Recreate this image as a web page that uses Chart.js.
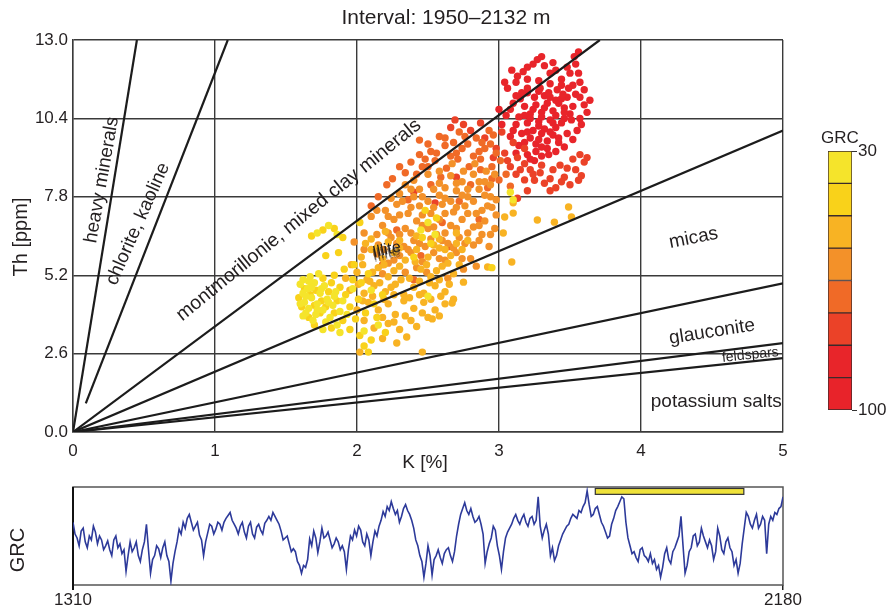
<!DOCTYPE html>
<html>
<head>
<meta charset="utf-8">
<script src="https://cdn.jsdelivr.net/npm/chart.js@4.4.1/dist/chart.umd.min.js"></script>
<style>
  body { margin: 0; background: #fff; }
  #wrap { position: relative; width: 891px; height: 614px; }
  canvas { position: absolute; }
</style>
</head>
<body>
<div id="wrap">
  <canvas id="cross" width="891" height="475" style="left:0;top:0"></canvas>
  <canvas id="scale" width="91" height="305" style="left:800px;top:120px"></canvas>
  <canvas id="log" width="891" height="139" style="left:0;top:475px"></canvas>
</div>
<script>
// axis ticks
const kTicks = [0, 1, 2, 3, 4, 5];
const thTicks = [0, 2.6, 5.2, 7.8, 10.4, 13.0];

// GRC colour classes (30 -> 100)
const grcEdges = [30, 38.75, 47.5, 56.25, 65, 73.75, 82.5, 91.25, 100];
const grcColors = ['#f5e42b', '#f9d21a', '#f8b323', '#f39129', '#f06a27', '#eb4228', '#e8252a', '#e8232a'];

// K [%], Th [ppm] samples per GRC class
const grc0 = [[1.60,4.90],[1.62,4.60],[1.63,4.30],[1.65,4.75],[1.66,4.10],[1.68,4.45],[1.70,4.95],[1.71,3.90],[1.72,4.25],[1.74,4.60],[1.76,4.05],[1.77,4.85],[1.79,4.40],[1.81,3.80],[1.83,4.20],[1.62,5.05],[1.67,5.15],[1.73,5.25],[1.85,4.65],[1.88,4.00],[1.64,3.95],[1.69,3.70],[1.78,3.65],[1.86,3.55],[1.90,4.35],[1.93,3.90],[1.72,6.60],[1.80,6.85],[1.86,6.55],[2.10,4.70],[2.45,6.70],[2.50,6.95],[2.55,6.55],[3.08,7.95],[3.10,7.70],[2.15,3.55],[2.05,3.35],[1.97,4.75],
  [1.60,4.25],[1.64,4.50],[1.68,4.80],[1.72,4.05],[1.75,4.75],[1.80,4.30],[1.84,4.50],[1.66,5.00],[1.62,3.85],[1.76,3.40],[1.88,3.30],[2.50,4.50]];
const grc1 = [[1.59,4.45],[1.61,4.15],[1.63,4.75],[1.66,3.80],[1.67,4.55],[1.70,4.20],[1.71,4.70],[1.74,3.95],[1.75,4.35],[1.78,4.15],[1.80,4.65],[1.82,4.95],[1.84,3.95],[1.86,4.35],[1.88,4.80],[1.90,3.70],[1.92,4.55],[1.95,4.15],[1.97,5.05],[1.99,3.75],[2.01,4.40],[2.03,4.95],[2.06,3.95],[2.08,5.25],[2.12,4.25],[2.14,3.80],[2.18,4.55],[1.84,5.20],[1.91,5.40],[1.98,5.55],[1.76,5.10],[1.70,3.55],[1.82,3.45],[1.95,3.40],[2.02,3.20],[2.10,3.05],[1.68,6.50],[1.76,6.70],[1.84,6.75],[1.90,6.45],[1.78,5.85],[1.87,5.95],[2.05,2.85],[2.08,2.65],[2.20,3.30],[2.40,5.80],[2.52,6.25],[2.48,7.35],[2.95,5.45],[2.02,6.95],[2.56,7.10],[2.46,6.45]];
const grc2 = [[2.12,3.45],[2.22,3.60],[2.30,3.40],[2.38,3.70],[2.42,3.50],[2.50,3.80],[2.28,2.95],[2.18,3.10],[2.35,3.15],[2.46,2.65],[2.02,2.65],
  [2.00,4.05],[2.08,4.30],[2.15,4.05],[2.22,4.25],[2.27,3.90],[2.33,4.35],[2.40,4.10],[2.47,4.30],[2.55,4.05],[2.62,4.25],[2.58,3.85],
  [1.95,4.70],[2.05,4.60],[2.12,4.85],[2.20,4.65],[2.27,4.90],[2.33,4.55],[2.40,4.80],[2.47,4.60],[2.55,4.85],[2.62,4.65],[2.68,4.40],
  [1.92,5.10],[2.00,5.30],[2.07,5.05],[2.15,5.45],[2.22,5.15],[2.30,5.50],[2.37,5.10],[2.45,5.40],[2.52,5.15],[2.60,5.50],[2.68,5.25],
  [2.03,5.80],[2.10,6.05],[2.18,5.75],[2.26,5.95],[2.34,5.70],[2.42,6.05],[2.50,5.80],[2.58,6.10],[2.66,5.85],[2.74,6.05],
  [2.10,6.40],[2.20,6.65],[2.30,6.35],[2.42,6.50],[2.58,6.40],[2.70,6.60],[2.78,6.35],
  [2.53,3.75],[2.67,4.28],[2.75,4.97],[2.92,5.47],[3.09,5.64],[3.03,6.60],[3.04,7.13],[3.10,7.26],[3.27,7.03],[3.39,6.96],[3.51,7.13],[3.49,7.46],[3.10,7.60],
  [2.18,3.80],[2.26,3.65],[2.34,3.85],[2.46,3.95],[2.05,3.70],
  [2.04,4.35],[2.11,4.50],[2.19,4.40],[2.26,4.55],[2.37,4.45],[2.44,4.55],[2.52,4.40],[2.59,4.50],
  [2.01,4.90],[2.09,5.00],[2.16,4.95],[2.24,4.80],[2.31,5.05],[2.44,5.00],[2.51,4.95],[2.58,5.05],[2.65,4.90],
  [1.96,5.55],[2.04,5.55],[2.11,5.30],[2.19,5.55],[2.26,5.35],[2.41,5.65],[2.49,5.55],[2.56,5.35],[2.64,5.60],[2.72,5.55],
  [2.06,6.25],[2.14,6.10],[2.22,6.30],[2.30,6.10],[2.54,6.20],[2.62,6.05],[2.70,6.25]];
const grc3 = [[2.18,5.25],[2.34,5.30],[2.49,5.30],[2.64,5.10],[2.75,5.40],
  [2.14,5.90],[2.22,5.60],[2.30,5.85],[2.38,5.95],[2.46,5.65],[2.54,5.95],[2.62,5.70],[2.70,5.95],[2.80,5.75],
  [2.15,6.20],[2.24,6.45],[2.33,6.15],[2.40,6.35],[2.48,6.15],[2.56,6.55],[2.64,6.25],[2.72,6.45],[2.82,6.20],[2.88,6.55],
  [2.18,6.85],[2.26,7.05],[2.34,6.75],[2.42,7.00],[2.50,6.75],[2.58,7.05],[2.66,6.85],[2.74,7.05],[2.82,6.80],[2.90,7.00],[2.97,6.75],
  [2.20,7.35],[2.28,7.55],[2.36,7.25],[2.44,7.50],[2.52,7.25],[2.60,7.55],[2.68,7.30],[2.76,7.50],[2.84,7.25],[2.92,7.50],[2.98,7.20],
  [2.30,7.90],[2.38,8.05],[2.46,7.80],[2.54,8.05],[2.62,7.75],[2.70,8.00],[2.78,7.80],[2.86,8.05],[2.94,7.80],
  [2.40,8.35],[2.50,8.55],[2.58,8.25],[2.66,8.50],[2.74,8.30],[2.82,8.55],[2.90,8.30],[2.97,8.55],
  [2.10,7.15],[2.05,6.60],[1.98,6.30],[2.05,6.05],
  [2.26,5.70],[2.42,5.45],[2.58,5.75],[2.74,5.75],[2.84,5.50],
  [2.19,6.05],[2.28,6.25],[2.36,6.05],[2.44,6.25],[2.52,6.40],[2.60,6.35],[2.68,6.10],[2.76,6.25],[2.86,6.35],[2.93,6.15],
  [2.14,6.55],[2.22,6.60],[2.30,6.55],[2.38,6.60],[2.46,6.85],[2.54,6.80],[2.62,6.60],[2.70,6.75],[2.78,6.60],[2.86,6.85],[2.94,6.55],
  [2.14,7.35],[2.22,7.15],[2.30,7.20],[2.38,7.45],[2.46,7.20],[2.54,7.45],[2.62,7.25],[2.70,7.45],[2.78,7.25],[2.88,7.35],[2.95,7.45],
  [2.24,7.75],[2.32,7.65],[2.40,7.80],[2.50,7.65],[2.58,7.85],[2.66,7.65],[2.74,7.85],[2.82,7.65],[2.90,7.85],[2.98,7.70],
  [2.34,8.20],[2.44,8.05],[2.62,8.10],[2.70,8.25],[2.78,8.05],[2.86,8.30],[2.94,8.20],
  [2.58,8.65],[2.67,8.90],[2.75,8.65],[2.83,8.90],[2.91,8.65]];
const grc4 = [[2.28,6.70],[2.45,5.85],[2.60,6.95],[2.72,7.65],[2.36,7.70],[2.52,8.20],[2.86,7.05],[2.18,5.55],[2.40,5.05],[2.65,6.15],[2.80,8.20],[2.92,8.10],
  [2.46,8.80],[2.55,9.00],[2.63,8.75],[2.71,9.05],[2.79,8.80],[2.87,9.05],[2.95,8.80],
  [2.52,9.30],[2.62,9.50],[2.70,9.25],[2.78,9.55],[2.86,9.30],[2.94,9.55],
  [2.58,9.80],[2.72,9.95],[2.84,9.75],[2.93,10.00],
  [2.21,8.20],[2.25,8.40],[2.30,8.80],[2.44,9.68],[2.10,7.50],[2.15,7.80],
  [3.01,9.00],[3.05,8.55],[3.00,8.36],[3.08,8.15],
  [2.48,9.05],[2.56,9.25],[2.66,9.15],[2.74,9.40],[2.82,9.15],[2.90,9.40],[2.98,9.25],[2.62,9.75],[2.68,9.60],[2.76,9.80],[2.88,9.60],[2.96,9.85],[2.50,9.55],[2.44,9.20],[2.38,8.95],[2.34,8.60],[2.42,8.55],[2.50,8.80],[2.59,8.45],[2.87,8.70],[2.95,8.40]];
const grc5 = [[2.69,10.35],[2.75,10.20],[2.87,10.25],[2.80,10.00],[2.66,10.10],[2.90,9.75],[2.98,9.40],[3.02,9.95],[2.96,9.10],
  [3.13,9.10],[3.08,8.80],[3.12,8.55],[3.18,8.36],[3.15,8.70],[3.25,8.35],[3.29,8.60],[3.36,8.00],[3.43,8.85],[3.50,8.20],[3.46,8.45],[3.54,8.70],[3.57,9.20],[3.60,8.95],[3.58,8.50],[3.52,9.05],[3.40,8.10],[3.32,8.25],[3.22,8.70],[3.13,7.75],[3.20,8.00],
  [2.55,7.60],[2.70,8.45],[2.40,7.95],
  [3.04,9.25],[3.10,9.60],[3.18,9.40],[3.06,9.00],[3.24,8.55],[3.36,8.40],[3.44,8.30],[3.30,8.85],[3.38,8.70],[3.48,8.75],[3.62,9.10],[3.56,8.35],[3.18,8.90]];
const grc6 = [[3.04,11.60],[3.13,11.80],[3.17,11.95],[3.24,12.20],[3.27,12.35],[3.32,12.15],[3.36,11.90],[3.56,12.60],[3.54,12.20],[3.50,11.90],[3.56,11.90],[3.57,11.60],[3.52,11.50],[3.06,11.40],[3.20,11.40],[3.16,11.25],[3.29,11.40],[3.35,11.25],[3.41,11.35],[3.45,11.20],[3.49,11.40],[3.57,11.10],[3.62,10.60],[3.57,10.40],[3.51,10.35],[3.60,10.85],[3.10,10.90],[3.05,10.50],[3.02,10.20],[3.08,9.80],[3.14,9.50],[3.20,9.20],[3.25,9.00],[3.35,9.20],[3.30,9.45],[3.42,9.60],[3.48,9.90],[3.40,9.30],[3.55,10.00],[3.46,10.60],[3.09,12.00],[3.40,12.00],[3.44,11.70],[3.00,10.70],[3.28,9.70],
  [3.12,11.60],[3.20,11.70],[3.28,11.65],[3.36,11.55],[3.44,11.50],[3.48,12.10],[3.60,11.35],[3.64,11.00],[3.12,11.15],[3.08,10.70],[3.14,10.45],[3.10,10.00],[3.18,9.60],[3.12,9.25],[3.22,9.05],[3.30,9.15],[3.46,9.45],[3.52,9.70],[3.58,10.20],[3.30,12.45],[3.20,12.10],[3.38,12.25],[3.53,12.45]];
const grc7 = [[3.18,10.80],[3.22,10.55],[3.26,10.85],[3.30,10.60],[3.34,10.90],[3.38,10.65],[3.42,10.90],[3.46,10.40],[3.20,10.25],[3.24,10.00],[3.28,10.30],[3.32,10.05],[3.36,10.35],[3.40,10.10],[3.44,10.25],[3.22,9.75],[3.26,9.55],[3.30,9.90],[3.34,9.65],[3.38,9.85],[3.18,10.50],[3.15,11.05],[3.25,11.10],[3.32,11.15],[3.40,11.00],[3.48,11.10],[3.12,10.20],[3.16,9.90],
  [3.20,11.25],[3.28,11.30],[3.36,11.10],[3.44,11.05],[3.24,10.70],[3.32,10.75],[3.40,10.50],[3.28,10.15],[3.36,9.95],[3.20,9.95],[3.26,9.30],[3.34,9.40],[3.42,9.75],[3.22,10.40],[3.30,10.45],[3.38,10.25],[3.46,10.75],[3.52,10.80],[3.54,11.20],[3.50,10.55]];
const grcClasses = [grc0, grc1, grc2, grc3, grc4, grc5, grc6, grc7];

// Th/K mineral boundaries (end points in K, Th)
const ratioLines = [
  [[0, 0], [0.45, 13]],
  [[0.09, 0.95], [1.09, 13]],
  [[0, 0], [3.71, 13]],
  [[0, 0], [5, 10]],
  [[0, 0], [5, 4.93]],
  [[0, 0], [5, 2.95]],
  [[0, 0], [5, 2.45]]
];

// field names: text, K, Th, angle, size
const fieldLabels = [
  ['heavy minerals', 0.204, 8.36, -80, 19],
  ['chlorite, kaoline', 0.458, 6.90, -66, 19],
  ['montmorillonie, mixed clay minerals', 1.59, 7.03, -39, 19.5],
  ['micas', 4.37, 6.43, -11, 19],
  ['glauconite', 4.50, 3.32, -9, 19],
  ['feldspars', 4.77, 2.55, -6, 14],
  ['potassium salts', 4.53, 0.99, 0, 19]
];

// gamma-ray log, 1310-2180 m every 5 m, plus the readings in between
const logStart = 1310, logStep = 5;
const logGrc = [64,48,55,44,50,60,42,46,40,
  36,46,38,32,14,44,38,30,36,62,
  12,30,37,38,30,4,34,57,64,68,
  64,60,51,30,53,60,57,62,64,71,
  66,58,60,54,60,52,59,56,63,70,
  74,66,55,48,42,37,24,12,18,47,
  55,33,58,50,46,42,44,40,16,50,
  56,60,44,52,30,55,60,75,80,85,
  72,64,78,76,66,46,30,8,40,10,
  30,28,32,38,24,50,72,84,72,70,
  66,62,22,42,60,40,16,48,58,68,
  66,68,64,68,62,90,48,62,30,25,
  40,52,60,68,70,76,80,96,70,78,
  72,60,48,62,76,85,88,48,32,28,
  36,30,24,22,16,8,32,26,34,44,
  70,12,34,50,40,58,44,46,26,58,
  36,44,38,20,12,42,74,62,66,58,
  70,32,70,74,78,90];
const logGrcMid = [52,40,58,38,46,54,50,36,45,30,
  50,42,36,30,34,44,24,44,36,26,
  40,28,44,24,22,44,52,58,72,56,
  64,46,44,62,52,64,56,68,74,62,
  52,64,48,64,48,62,52,66,66,70,
  62,46,50,34,34,20,20,26,40,48,
  44,48,54,38,48,36,34,36,46,50,
  56,40,46,44,50,66,70,76,78,76,
  70,82,72,58,40,24,22,30,26,36,
  22,36,30,34,62,78,76,78,64,70,
  52,34,48,56,30,34,54,62,72,62,
  72,60,70,66,60,56,52,38,30,46,
  56,62,72,68,74,84,82,72,80,64,
  54,50,68,80,90,64,40,34,24,38,
  28,32,26,20,18,38,22,38,50,40,
  20,38,52,44,50,38,40,34,50,32,
  48,34,26,22,58,70,58,72,62,66,
  62,66,72,80];
const interval = [1950, 2132];

const FONT = '"Liberation Sans", Arial, sans-serif';
const INK = '#231f20';
Chart.defaults.font.family = FONT;
Chart.defaults.color = INK;
Chart.defaults.animation = false;
Chart.defaults.responsive = false;
Chart.defaults.devicePixelRatio = 1;
Chart.defaults.plugins.legend.display = false;
Chart.defaults.plugins.tooltip.enabled = false;

function text(ctx, s, x, y, size, angle, align) {
  ctx.save();
  ctx.translate(x, y);
  ctx.rotate((angle || 0) * Math.PI / 180);
  ctx.font = size + 'px ' + FONT;
  ctx.fillStyle = INK;
  ctx.textAlign = align || 'center';
  ctx.textBaseline = 'middle';
  ctx.fillText(s, 0, 0);
  ctx.restore();
}

// ---- K-Th crossplot ----
const scatterSets = grcClasses.map((pts, i) => ({
  type: 'scatter',
  label: 'GRC ' + grcEdges[i] + '-' + grcEdges[i + 1],
  data: pts.map(p => ({ x: p[0], y: p[1] })),
  backgroundColor: grcColors[i],
  borderWidth: 0,
  pointRadius: 3.7,
  order: 2
}));
const lineSets = ratioLines.map(l => ({
  type: 'line',
  data: l.map(p => ({ x: p[0], y: p[1] })),
  borderColor: '#1c1c1c',
  borderWidth: 2.2,
  pointRadius: 0,
  fill: false,
  order: 1
}));

const crossDecor = {
  id: 'crossDecor',
  afterDatasetsDraw(chart) {
    const { ctx, scales: { x, y } } = chart;
    fieldLabels.forEach(([s, k, th, a, size]) => {
      text(ctx, s, x.getPixelForValue(k), y.getPixelForValue(th), size, a);
    });
    // smeared "Illite" label
    const ix = x.getPixelForValue(2.21), iy = y.getPixelForValue(6.04);
    ctx.save();
    ctx.translate(ix, iy);
    ctx.rotate(-12 * Math.PI / 180);
    ctx.font = '16px ' + FONT;
    ctx.textAlign = 'center';
    ctx.textBaseline = 'middle';
    ctx.fillStyle = 'rgba(60,40,30,0.35)';
    ctx.fillText('Illite', -1, 5);
    ctx.fillStyle = 'rgba(40,30,20,0.55)';
    ctx.fillText('Illite', -1, 3);
    ctx.fillStyle = INK;
    ctx.fillText('Illite', 0, 0);
    ctx.restore();
  },
  afterDraw(chart) {
    const { ctx } = chart;
    text(ctx, 'Interval: 1950\u20132132 m', 446, 18, 21);
    text(ctx, 'Th [ppm]', 21, 237, 20, -90);
    text(ctx, 'K [%]', 425, 463, 19);
  }
};

new Chart(document.getElementById('cross'), {
  data: { datasets: [...lineSets, ...scatterSets] },
  options: {
    layout: { padding: { top: 40, right: 108, bottom: 0, left: 0 } },
    scales: {
      x: {
        type: 'linear', min: 0, max: 5,
        afterBuildTicks: s => { s.ticks = kTicks.map(v => ({ value: v })); },
        afterFit: s => { s.height = 43; },
        grid: { color: '#3a3a3a', lineWidth: 1.4, drawTicks: false },
        border: { color: '#3a3a3a', width: 1.4 },
        ticks: { font: { size: 17 }, padding: 9, color: INK, callback: v => String(v) }
      },
      y: {
        type: 'linear', min: 0, max: 13,
        afterBuildTicks: s => { s.ticks = thTicks.map(v => ({ value: v })); },
        afterFit: s => { s.width = 73; },
        grid: { color: '#3a3a3a', lineWidth: 1.4, drawTicks: false },
        border: { color: '#3a3a3a', width: 1.4 },
        ticks: { font: { size: 17 }, padding: 5, color: INK, callback: v => v.toFixed(1) }
      }
    }
  },
  plugins: [crossDecor]
});

// ---- GRC colour scale ----
new Chart(document.getElementById('scale'), {
  type: 'bar',
  data: {
    labels: ['GRC'],
    datasets: grcColors.map((c, i) => ({
      data: [[grcEdges[i], grcEdges[i + 1]]],
      backgroundColor: c,
      borderColor: '#3b2b2b',
      borderWidth: 1,
      borderSkipped: false,
      barPercentage: 1,
      categoryPercentage: 1,
      grouped: false
    }))
  },
  options: {
    layout: { padding: { top: 31, left: 28, bottom: 15, right: 0 } },
    scales: {
      x: { display: false },
      y: {
        position: 'right', min: 30, max: 100, reverse: true,
        afterBuildTicks: s => { s.ticks = [30, 100].map(v => ({ value: v })); },
        afterFit: s => { s.width = 39; },
        grid: { drawOnChartArea: false, tickLength: 5, color: '#333', lineWidth: 1 },
        border: { display: false },
        ticks: { font: { size: 17 }, padding: 1, color: INK }
      }
    }
  },
  plugins: [{
    id: 'scaleTitle',
    afterDraw(chart) {
      text(chart.ctx, 'GRC', (chart.chartArea.left + chart.chartArea.right) / 2, 18, 17);
    }
  }]
});

// ---- gamma-ray log ----
const logPoints = [];
logGrc.forEach((v, i) => {
  logPoints.push({ x: logStart + i * logStep, y: v });
  if (i < logGrcMid.length) logPoints.push({ x: logStart + (i + 0.5) * logStep, y: logGrcMid[i] });
});

const logDecor = {
  id: 'logDecor',
  beforeDatasetsDraw(chart) {
    const { ctx, chartArea: a } = chart;
    ctx.save();
    ctx.strokeStyle = '#555';
    ctx.lineWidth = 1.5;
    ctx.strokeRect(a.left, a.top, a.right - a.left, a.bottom - a.top);
    ctx.strokeStyle = '#111';
    ctx.lineWidth = 2;
    ctx.beginPath();
    ctx.moveTo(a.left, a.top);
    ctx.lineTo(a.left, a.bottom + 5);
    ctx.stroke();
    ctx.restore();
  },
  afterDatasetsDraw(chart) {
    const { ctx, scales: { x, y } } = chart;
    const x0 = x.getPixelForValue(interval[0]), x1 = x.getPixelForValue(interval[1]);
    const y0 = y.getPixelForValue(98.5), y1 = y.getPixelForValue(92.5);
    ctx.save();
    ctx.fillStyle = '#efe23a';
    ctx.strokeStyle = '#333';
    ctx.lineWidth = 1.2;
    ctx.fillRect(x0, y0, x1 - x0, y1 - y0);
    ctx.strokeRect(x0, y0, x1 - x0, y1 - y0);
    ctx.restore();
    text(ctx, 'GRC', 18, 75, 20, -90);
  }
};

new Chart(document.getElementById('log'), {
  type: 'line',
  data: {
    datasets: [{
      data: logPoints,
      borderColor: '#2d3a9a',
      borderWidth: 1.6,
      pointRadius: 0,
      tension: 0
    }]
  },
  options: {
    layout: { padding: { top: 12, right: 108, bottom: 0, left: 73 } },
    scales: {
      x: {
        type: 'linear', min: 1310, max: 2180,
        afterBuildTicks: s => { s.ticks = [1310, 2180].map(v => ({ value: v })); },
        afterFit: s => { s.height = 29; },
        grid: { drawOnChartArea: false, tickLength: 5, color: '#222', lineWidth: 1.5 },
        border: { display: false },
        ticks: { font: { size: 17 }, padding: 0, color: INK, maxRotation: 0, autoSkip: false, callback: v => String(v) }
      },
      y: { display: false, min: 0, max: 100 }
    }
  },
  plugins: [logDecor]
});
</script>
</body>
</html>
